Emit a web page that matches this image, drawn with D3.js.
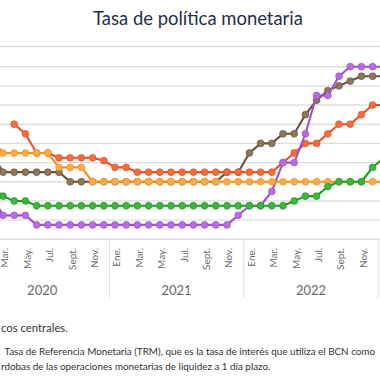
<!DOCTYPE html>
<html><head><meta charset="utf-8">
<script src="https://cdn.jsdelivr.net/npm/d3@7"></script>
<style>html,body{margin:0;padding:0;background:#fff;overflow:hidden}svg{display:block}</style>
</head><body>
<svg id="chart" width="380" height="380"></svg>
<script>
// ---- data (monthly, Jan 2020 .. Jan 2023) ----
const monthNames = ["Ene.","Feb.","Mar.","Abr.","May.","Jun.","Jul.","Ago.","Sept.","Oct.","Nov.","Dic."];
const years = [2020, 2021, 2022];
const periods = [];
years.forEach(y => monthNames.forEach((m, i) => periods.push({year: y, month: i, key: y + "-" + (i + 1)})));
periods.push({year: 2023, month: 0, key: "2023-1"});

const costaRica = [null,2.25,1.25,1.25,1.25,0.75,0.75,0.75,0.75,0.75,0.75,0.75,
  0.75,0.75,0.75,0.75,0.75,0.75,0.75,0.75,0.75,0.75,0.75,1.25,
  1.75,1.75,2.5,4.0,4.0,5.5,7.5,7.5,8.5,9.0,9.0,9.0,
  9.0];
const repDominicana = [null,4.5,3.5,3.5,3.5,3.5,3.5,3.5,3.0,3.0,3.0,3.0,
  3.0,3.0,3.0,3.0,3.0,3.0,3.0,3.0,3.0,3.0,3.5,3.5,
  4.5,5.0,5.0,5.5,5.5,6.5,7.25,7.75,8.0,8.25,8.5,8.5,
  8.5];
const nicaragua = [null,null,null,6.0,5.5,4.5,4.5,4.25,4.25,4.25,4.25,4.1,
  3.75,3.75,3.5,3.5,3.5,3.5,3.5,3.5,3.5,3.5,3.5,3.5,
  3.5,3.5,3.5,4.0,4.5,5.0,5.0,5.5,6.0,6.0,6.5,7.0,
  7.0];
const honduras = [null,5.25,4.5,4.5,4.5,4.5,4.5,3.75,3.75,3.75,3.0,3.0,
  3.0,3.0,3.0,3.0,3.0,3.0,3.0,3.0,3.0,3.0,3.0,3.0,
  3.0,3.0,3.0,3.0,3.0,3.0,3.0,3.0,3.0,3.0,3.0,3.0,
  3.0];
const guatemala = [null,2.75,2.25,2.0,2.0,1.75,1.75,1.75,1.75,1.75,1.75,1.75,
  1.75,1.75,1.75,1.75,1.75,1.75,1.75,1.75,1.75,1.75,1.75,1.75,
  1.75,1.75,1.75,1.75,2.0,2.25,2.25,2.75,3.0,3.0,3.0,3.75,
  4.25];

// drawing order: bottom to top
const seriesList = [
  {name: "República Dominicana", values: repDominicana, line: "#6b532f", fill: "#8d7760"},
  {name: "Nicaragua", values: nicaragua, line: "#e4502a", fill: "#f26d3c"},
  {name: "Costa Rica", values: costaRica, line: "#a24ed3", fill: "#b76ce2"},
  {name: "Honduras", values: honduras, line: "#f2931a", fill: "#f7ab4e"},
  {name: "Guatemala", values: guatemala, line: "#219a21", fill: "#3db53d"}
];

const title = "Tasa de política monetaria";
// note lines as they appear in the (cropped) view
const sourceNote = "cos centrales.";
const note1 = "Tasa de Referencia Monetaria (TRM), que es la tasa de interés que utiliza el BCN como";
const note2 = "rdobas de las operaciones monetarias de liquidez a 1 día plazo.";

// ---- layout ----
const svg = d3.select("#chart");
const font = "Lato, 'Noto Sans', sans-serif";
const baseY = 239.3;
const x = d3.scaleBand().domain(periods.map(p => p.key)).range([-25, 389.4]).padding(0);
const cx = k => x(k) + x.bandwidth() / 2;
const y = d3.scaleLinear().domain([0, 10]).range([baseY, 47.5]);

svg.append("rect").attr("width", 380).attr("height", 380).attr("fill", "#fff");

// gridlines
svg.append("g").selectAll("line").data(d3.range(1, 10)).join("line")
  .attr("x1", 0).attr("x2", 380)
  .attr("y1", d => y(d)).attr("y2", d => y(d))
  .attr("stroke", "#dedede").attr("stroke-width", 1.4);

// baseline axis
svg.append("line").attr("x1", 0).attr("x2", 380).attr("y1", baseY).attr("y2", baseY)
  .attr("stroke", "#dcdcdc").attr("stroke-width", 1.4);

// year separators
const sepYears = [2021, 2022, 2023];
svg.append("g").selectAll("line").data(sepYears).join("line")
  .attr("x1", d => x(d + "-1")).attr("x2", d => x(d + "-1"))
  .attr("y1", baseY).attr("y2", 298)
  .attr("stroke", "#e2e2e2").attr("stroke-width", 1.2);

// month labels (every other month, only those inside the view)
const labelled = periods.filter(p => p.year <= 2022 && p.month % 2 === 0 && cx(p.key) > 0);
svg.append("g").selectAll("text").data(labelled).join("text")
  .attr("transform", p => `translate(${cx(p.key) + 1.8},${baseY + 8.5}) rotate(-90)`)
  .attr("text-anchor", "end").attr("dy", "0.35em")
  .attr("font-family", font).attr("font-size", 10).attr("fill", "#6a6a6a")
  .text(p => monthNames[p.month]);

// year labels
svg.append("g").selectAll("text").data(years).join("text")
  .attr("x", yr => (x(yr + "-1") + x((yr + 1) + "-1")) / 2)
  .attr("y", 295)
  .attr("text-anchor", "middle")
  .attr("font-family", font).attr("font-size", 13).attr("fill", "#6a6a6a")
  .text(d => d);

// series
const line = d3.line().defined(d => d.v != null).x(d => cx(d.k)).y(d => y(d.v));
seriesList.forEach(s => {
  const pts = s.values.map((v, i) => ({k: periods[i].key, v}));
  const g = svg.append("g");
  g.append("path").datum(pts).attr("d", line)
    .attr("fill", "none").attr("stroke", s.line).attr("stroke-width", 2.1)
    .attr("stroke-linejoin", "round");
  g.selectAll("circle").data(pts.filter(d => d.v != null)).join("circle")
    .attr("cx", d => cx(d.k)).attr("cy", d => y(d.v)).attr("r", 3.4)
    .attr("fill", s.fill).attr("stroke", s.line).attr("stroke-width", 0.7);
});

// title band
svg.append("rect").attr("x", 0).attr("y", 0).attr("width", 380).attr("height", 46).attr("fill", "#fff");
svg.append("line").attr("x1", 0).attr("x2", 380).attr("y1", 46.5).attr("y2", 46.5)
  .attr("stroke", "#dcdcdc").attr("stroke-width", 1.4);

function fitSize(txt, target, base) {
  const t = svg.append("text").attr("font-family", font).attr("font-size", base).text(txt);
  const w = t.node().getComputedTextLength();
  t.remove();
  return base * target / w;
}
const tSize = fitSize(title, 210, 17);
svg.append("text").attr("x", 198).attr("y", 25).attr("text-anchor", "middle")
  .attr("font-family", font).attr("font-size", tSize).attr("fill", "#1f2f46").text(title);

// notes
const s1 = fitSize(sourceNote, 67, 11);
svg.append("text").attr("x", 1).attr("y", 332)
  .attr("font-family", font).attr("font-size", s1).attr("fill", "#333").text(sourceNote);

const s2 = fitSize(note1, 371, 10);
svg.append("text").attr("x", 4.5).attr("y", 355)
  .attr("font-family", font).attr("font-size", s2).attr("fill", "#333").text(note1);

svg.append("text").attr("x", 1).attr("y", 369.5)
  .attr("font-family", font).attr("font-size", s2).attr("fill", "#333").text(note2);
</script>
</body></html>
